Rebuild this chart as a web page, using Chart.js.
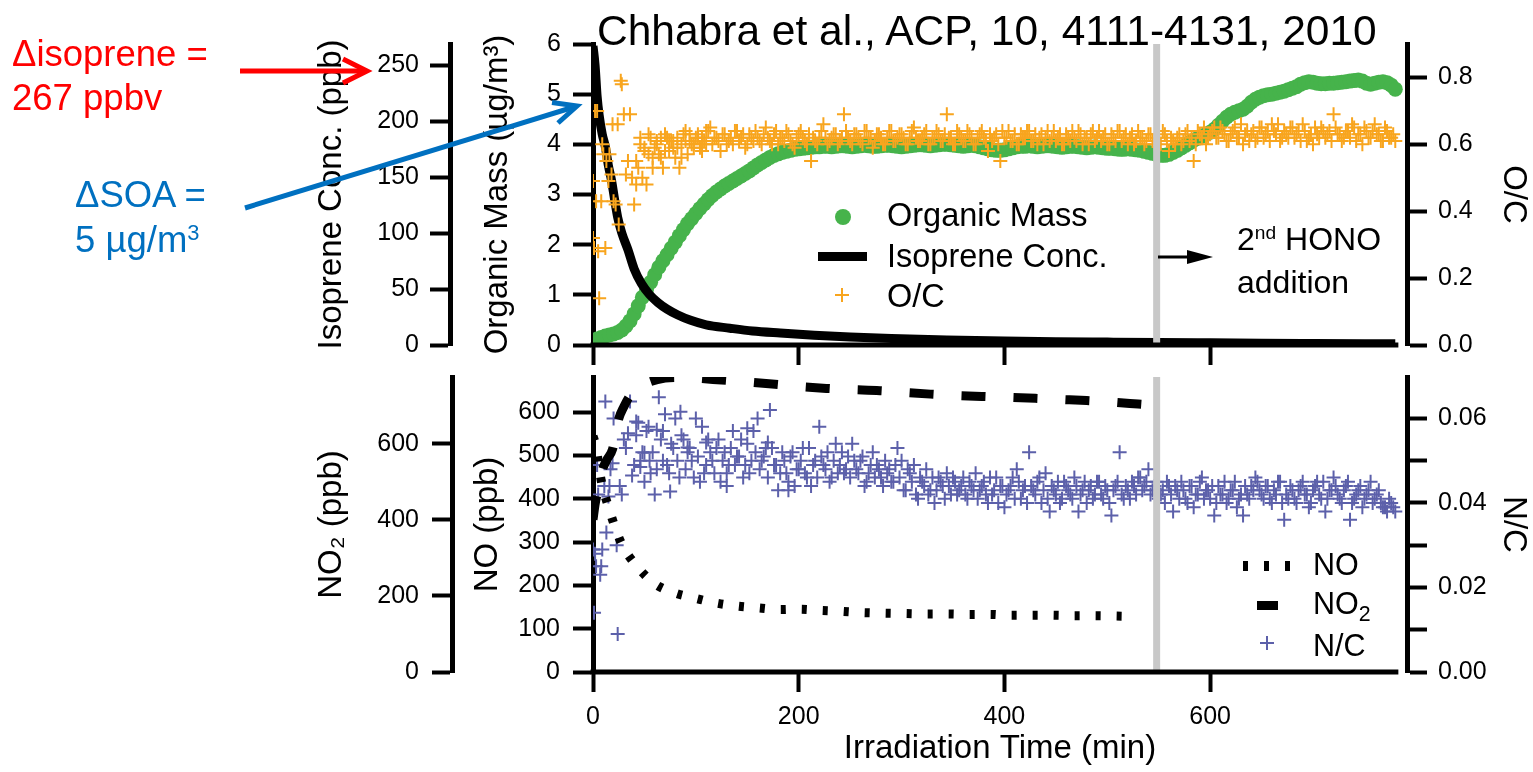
<!DOCTYPE html>
<html>
<head>
<meta charset="utf-8">
<script src="https://cdn.jsdelivr.net/npm/chart.js@4.4.1/dist/chart.umd.min.js"></script>
<style>
  body { margin: 0; background: #fff; width: 1533px; height: 772px; overflow: hidden; position: relative;
         font-family: 'Liberation Sans', Arial, sans-serif; color: #000; }
  canvas { position: absolute; left: 0; display: block; }
  #top-chart { top: 0; }
  #bottom-chart { top: 368px; }
  svg { position: absolute; left: 0; top: 0; }
  .note { position: absolute; white-space: nowrap; }
  .sup { font-size: 0.6em; position: relative; top: -0.55em; }
  .sub { font-size: 0.7em; position: relative; top: 0.35em; }
</style>
</head>
<body>
<canvas id="top-chart" width="1533" height="368"></canvas>
<canvas id="bottom-chart" width="1533" height="404"></canvas>

<svg width="1533" height="772">
  <!-- annotation arrows -->
  <line x1="240" y1="71" x2="364" y2="71" stroke="#ff0000" stroke-width="5"/>
  <polyline points="343,59 367,71 343,83" fill="none" stroke="#ff0000" stroke-width="5"/>
  <line x1="245" y1="208" x2="574" y2="107" stroke="#0070c0" stroke-width="5"/>
  <polyline points="552,102.5 577,106 558,123" fill="none" stroke="#0070c0" stroke-width="5"/>
  <line x1="1158" y1="257" x2="1192" y2="257" stroke="#000" stroke-width="3"/>
  <polygon points="1213,257 1187,250 1187,264" fill="#000"/>
  <!-- legend swatches, top panel -->
  <circle cx="843" cy="217" r="8" fill="#46b34b"/>
  <rect x="818" y="252" width="49" height="9" fill="#000"/>
  <line x1="835" y1="295" x2="849" y2="295" stroke="#f8a51e" stroke-width="2"/>
  <line x1="842" y1="288" x2="842" y2="302" stroke="#f8a51e" stroke-width="2"/>
  <!-- legend swatches, bottom panel -->
  <rect x="1243" y="561" width="5" height="10" fill="#000"/>
  <rect x="1264" y="561" width="5" height="10" fill="#000"/>
  <rect x="1285" y="561" width="5" height="10" fill="#000"/>
  <rect x="1257" y="601" width="21" height="9" fill="#000"/>
  <line x1="1260" y1="643" x2="1274" y2="643" stroke="#5c60aa" stroke-width="2"/>
  <line x1="1267" y1="636" x2="1267" y2="650" stroke="#5c60aa" stroke-width="2"/>
</svg>

<div class="note" style="left:597px; top:10px; font-size:42.5px; line-height:42px;">Chhabra et al., ACP, 10, 4111-4131, 2010</div>
<div class="note" style="left:12px; top:32px; font-size:36.5px; line-height:44px; color:#ff0000;">&Delta;isoprene =<br>267 ppbv</div>
<div class="note" style="left:75px; top:172px; font-size:36.5px; line-height:45px; color:#0070c0;">&Delta;SOA =<br>5 &micro;g/m<span class="sup">3</span></div>
<div class="note" style="left:1237px; top:220px; font-size:32px; line-height:38px;">2<span class="sup">nd</span> HONO<br>addition</div>
<div class="note" style="left:887px; top:195px; font-size:32.5px; line-height:40.5px;">Organic Mass<br>Isoprene Conc.<br>O/C</div>
<div class="note" style="left:1313px; top:545px; font-size:30.5px; line-height:38.5px;">NO<br>NO<span class="sub">2</span><br>N/C</div>

<script>
// Chamber run: isoprene + HONO, irradiation time in minutes

// sample times shared by the AMS series (min)
const sampleTime = [
  0, 4, 8, 12, 16, 20, 24, 28, 32, 36,
  40, 44, 48, 52, 56, 60, 64, 68, 72, 76,
  80, 84, 88, 92, 96, 100, 104, 108, 112, 116,
  120, 124, 128, 132, 136, 140, 144, 148, 152, 156,
  160, 164, 168, 172, 176, 180, 184, 188, 192, 196,
  200, 204, 208, 212, 216, 220, 224, 228, 232, 236,
  240, 244, 248, 252, 256, 260, 264, 268, 272, 276,
  280, 284, 288, 292, 296, 300, 304, 308, 312, 316,
  320, 324, 328, 332, 336, 340, 344, 348, 352, 356,
  360, 364, 368, 372, 376, 380, 384, 388, 392, 396,
  400, 404, 408, 412, 416, 420, 424, 428, 432, 436,
  440, 444, 448, 452, 456, 460, 464, 468, 472, 476,
  480, 484, 488, 492, 496, 500, 504, 508, 512, 516,
  520, 524, 528, 532, 536, 540, 544, 548, 552, 556,
  560, 564, 568, 572, 576, 580, 584, 588, 592, 596,
  600, 604, 608, 612, 616, 620, 624, 628, 632, 636,
  640, 644, 648, 652, 656, 660, 664, 668, 672, 676,
  680, 684, 688, 692, 696, 700, 704, 708, 712, 716,
  720, 724, 728, 732, 736, 740, 744, 748, 752, 756,
  760, 764, 768, 772, 776, 780
];

// in-between elemental-ratio samples (min)
const midTime = [
  42, 46, 50, 54, 58, 62, 66, 70, 74, 78,
  82, 86, 90, 94, 98, 102, 106, 110, 114, 118,
  122, 126, 130, 134, 138, 142, 146, 150, 154, 158,
  162, 166, 170, 174, 178, 182, 186, 190, 194, 198,
  202, 206, 210, 214, 218, 222, 226, 230, 234, 238,
  242, 246, 250, 254, 258, 262, 266, 270, 274, 278,
  282, 286, 290, 294, 298, 302, 306, 310, 314, 318,
  322, 326, 330, 334, 338, 342, 346, 350, 354, 358,
  362, 366, 370, 374, 378, 382, 386, 390, 394, 398,
  402, 406, 410, 414, 418, 422, 426, 430, 434, 438,
  442, 446, 450, 454, 458, 462, 466, 470, 474, 478,
  482, 486, 490, 494, 498, 502, 506, 510, 514, 518,
  522, 526, 530, 534, 538, 542, 546, 550, 554, 558,
  562, 566, 570, 574, 578, 582, 586, 590, 594, 598,
  602, 606, 610, 614, 618, 622, 626, 630, 634, 638,
  642, 646, 650, 654, 658, 662, 666, 670, 674, 678,
  682, 686, 690, 694, 698, 702, 706, 710, 714, 718,
  722, 726, 730, 734, 738, 742, 746, 750, 754, 758,
  762, 766, 770, 774, 778
];

// organic mass (ug/m3)
const organicMass = [
  0.08, 0.12, 0.15, 0.18, 0.20, 0.22, 0.25, 0.30, 0.38, 0.48,
  0.62, 0.78, 0.95, 1.10, 1.25, 1.40, 1.55, 1.68, 1.80, 1.93,
  2.05, 2.18, 2.30, 2.42, 2.52, 2.62, 2.72, 2.81, 2.90, 2.98,
  3.05, 3.11, 3.17, 3.22, 3.27, 3.32, 3.37, 3.42, 3.47, 3.53,
  3.59, 3.64, 3.69, 3.74, 3.78, 3.81, 3.84, 3.86, 3.88, 3.90,
  3.91, 3.92, 3.93, 3.94, 3.95, 3.95, 3.96, 3.96, 3.95, 3.96,
  3.97, 3.97, 3.96, 3.95, 3.96, 3.97, 3.98, 3.97, 3.96, 3.96,
  3.97, 3.98, 3.98, 3.97, 3.96, 3.95, 3.96, 3.97, 3.98, 3.99,
  3.99, 3.98, 3.97, 3.98, 3.99, 4.00, 4.00, 3.99, 3.98, 3.97,
  3.96, 3.97, 3.98, 3.97, 3.95, 3.93, 3.91, 3.89, 3.88, 3.88,
  3.89, 3.91, 3.93, 3.95, 3.96, 3.96, 3.97, 3.96, 3.95, 3.96,
  3.97, 3.97, 3.96, 3.95, 3.94, 3.95, 3.96, 3.96, 3.95, 3.94,
  3.93, 3.94, 3.95, 3.94, 3.93, 3.92, 3.92, 3.91, 3.90, 3.90,
  3.91, 3.90, 3.89, 3.88, 3.86, 3.84, 3.82, 3.80, 3.78, 3.78,
  3.80, 3.84, 3.88, 3.93, 3.98, 4.03, 4.08, 4.12, 4.16, 4.20,
  4.24, 4.30, 4.38, 4.46, 4.54, 4.60, 4.64, 4.67, 4.70, 4.76,
  4.84, 4.90, 4.94, 4.97, 4.99, 5.00, 5.02, 5.04, 5.06, 5.09,
  5.12, 5.15, 5.20, 5.23, 5.25, 5.24, 5.22, 5.21, 5.21, 5.22,
  5.22, 5.23, 5.24, 5.25, 5.26, 5.27, 5.28, 5.26, 5.22, 5.20,
  5.22, 5.24, 5.25, 5.23, 5.18, 5.10
];

// O/C ratio
const oxygenToCarbon = [
  0.49, 0.70, 0.43, 0.29, 0.57, 0.43, 0.66, 0.78, 0.51, 0.69,
  0.42, 0.53, 0.50, 0.48, 0.62, 0.59, 0.57, 0.53, 0.62, 0.61,
  0.56, 0.53, 0.63, 0.57, 0.60, 0.62, 0.59, 0.61, 0.64, 0.60,
  0.62, 0.58, 0.63, 0.61, 0.60, 0.64, 0.62, 0.59, 0.63, 0.61,
  0.62, 0.60, 0.65, 0.61, 0.63, 0.60, 0.62, 0.64, 0.61, 0.59,
  0.63, 0.62, 0.60, 0.55, 0.61, 0.62, 0.66, 0.60, 0.62, 0.63,
  0.61, 0.69, 0.62, 0.60, 0.63, 0.61, 0.64, 0.62, 0.59, 0.63,
  0.62, 0.60, 0.64, 0.61, 0.62, 0.63, 0.60, 0.62, 0.65, 0.61,
  0.62, 0.64, 0.60, 0.62, 0.63, 0.61, 0.69, 0.62, 0.60, 0.63,
  0.61, 0.64, 0.62, 0.60, 0.63, 0.62, 0.58, 0.61, 0.63, 0.55,
  0.62, 0.64, 0.61, 0.60, 0.63, 0.62, 0.64, 0.61, 0.60, 0.63,
  0.62, 0.61, 0.64, 0.62, 0.60, 0.63, 0.61, 0.62, 0.64, 0.60,
  0.62, 0.63, 0.61, 0.64, 0.62, 0.60, 0.63, 0.61, 0.64, 0.62,
  0.60, 0.63, 0.61, 0.62, 0.60, 0.63, 0.61, 0.62, 0.60, 0.63,
  0.58, 0.61, 0.62, 0.60, 0.63, 0.61, 0.55, 0.64, 0.62, 0.60,
  0.63, 0.65, 0.62, 0.64, 0.61, 0.63, 0.65, 0.62, 0.60, 0.64,
  0.63, 0.61, 0.65, 0.62, 0.64, 0.66, 0.63, 0.61, 0.64, 0.62,
  0.65, 0.63, 0.61, 0.64, 0.62, 0.60, 0.63, 0.65, 0.62, 0.64,
  0.69, 0.63, 0.61, 0.64, 0.62, 0.65, 0.63, 0.60, 0.64, 0.62,
  0.66, 0.63, 0.61, 0.64, 0.62, 0.61
];

const oxygenToCarbonMid = [
  0.55, 0.60, 0.58, 0.63, 0.56, 0.60, 0.62, 0.58, 0.61, 0.59,
  0.62, 0.60, 0.64, 0.61, 0.59, 0.63, 0.62, 0.60, 0.65, 0.62,
  0.61, 0.63, 0.60, 0.62, 0.64, 0.61, 0.63, 0.60, 0.62, 0.64,
  0.61, 0.63, 0.62, 0.60, 0.64, 0.62, 0.61, 0.63, 0.60, 0.62,
  0.64, 0.61, 0.63, 0.62, 0.60, 0.64, 0.62, 0.61, 0.63, 0.60,
  0.62, 0.64, 0.61, 0.63, 0.62, 0.60, 0.64, 0.62, 0.61, 0.63,
  0.60, 0.62, 0.64, 0.61, 0.63, 0.62, 0.60, 0.64, 0.62, 0.61,
  0.63, 0.60, 0.62, 0.64, 0.61, 0.63, 0.62, 0.60, 0.64, 0.62,
  0.61, 0.63, 0.60, 0.62, 0.64, 0.61, 0.63, 0.62, 0.60, 0.64,
  0.62, 0.61, 0.63, 0.60, 0.62, 0.64, 0.61, 0.63, 0.62, 0.60,
  0.64, 0.62, 0.61, 0.63, 0.60, 0.62, 0.64, 0.61, 0.63, 0.62,
  0.60, 0.64, 0.62, 0.61, 0.63, 0.60, 0.62, 0.64, 0.61, 0.63,
  0.62, 0.60, 0.64, 0.62, 0.61, 0.63, 0.60, 0.62, 0.64, 0.61,
  0.62, 0.60, 0.63, 0.61, 0.64, 0.62, 0.60, 0.63, 0.65, 0.62,
  0.64, 0.62, 0.65, 0.63, 0.61, 0.64, 0.62, 0.66, 0.63, 0.61,
  0.64, 0.62, 0.65, 0.63, 0.61, 0.64, 0.66, 0.62, 0.63, 0.65,
  0.62, 0.64, 0.66, 0.61, 0.63, 0.65, 0.62, 0.64, 0.63, 0.61,
  0.65, 0.63, 0.62, 0.64, 0.66, 0.61, 0.63, 0.65, 0.62, 0.64,
  0.63, 0.61, 0.65, 0.62, 0.63
];

// extra O/C points in the noisy start of the run
const ocEarlyTime = [0, 1, 2, 3, 5, 6, 9, 10, 13, 15, 18, 19, 22, 25, 27, 30, 34, 38, 42, 46,
                     50, 54, 58, 62, 66, 70, 74, 78, 82, 86, 90, 94, 98, 102, 106, 110];
const ocEarly = [0.32, 0.29, 0.70, 0.43, 0.28, 0.14, 0.60, 0.57, 0.55, 0.49, 0.51, 0.66, 0.42, 0.36, 0.79, 0.69, 0.55, 0.50, 0.48, 0.62,
                 0.59, 0.57, 0.53, 0.61, 0.56, 0.63, 0.58, 0.61, 0.59, 0.56, 0.61, 0.63, 0.60, 0.62, 0.58, 0.64];

// N/C ratio
const nitrogenToCarbon = [
  0.029, 0.049, 0.025, 0.064, 0.044, 0.060, 0.009, 0.042, 0.053, 0.064,
  0.049, 0.059, 0.052, 0.057, 0.047, 0.042, 0.065, 0.050, 0.049, 0.054,
  0.060, 0.046, 0.055, 0.052, 0.050, 0.060, 0.045, 0.047, 0.055, 0.050,
  0.053, 0.045, 0.052, 0.049, 0.057, 0.051, 0.055, 0.049, 0.047, 0.057,
  0.060, 0.050, 0.053, 0.062, 0.049, 0.043, 0.052, 0.047, 0.051, 0.044,
  0.048, 0.053, 0.046, 0.044, 0.050, 0.058, 0.049, 0.052, 0.046, 0.054,
  0.049, 0.047, 0.051, 0.054, 0.048, 0.050, 0.044, 0.047, 0.052, 0.049,
  0.046, 0.050, 0.048, 0.045, 0.053, 0.050, 0.043, 0.047, 0.049, 0.041,
  0.045, 0.048, 0.043, 0.040, 0.046, 0.044, 0.047, 0.042, 0.045, 0.043,
  0.046, 0.041, 0.044, 0.047, 0.043, 0.045, 0.040, 0.042, 0.046, 0.044,
  0.039, 0.043, 0.046, 0.048, 0.041, 0.044, 0.052, 0.043, 0.045, 0.040,
  0.047, 0.038, 0.043, 0.045, 0.041, 0.044, 0.042, 0.046, 0.038, 0.043,
  0.040, 0.044, 0.042, 0.045, 0.041, 0.043, 0.037, 0.044, 0.052, 0.041,
  0.043, 0.045, 0.042, 0.046, 0.044, 0.048, 0.043, 0.045, 0.042, 0.040,
  0.044, 0.038, 0.043, 0.045, 0.041, 0.044, 0.039, 0.042, 0.046, 0.043,
  0.041, 0.037, 0.044, 0.042, 0.040, 0.043, 0.045, 0.041, 0.037, 0.042,
  0.044, 0.046, 0.043, 0.041, 0.044, 0.040, 0.042, 0.045, 0.036, 0.041,
  0.043, 0.040, 0.044, 0.042, 0.039, 0.043, 0.045, 0.041, 0.038, 0.043,
  0.046, 0.042, 0.040, 0.044, 0.036, 0.041, 0.043, 0.039, 0.042, 0.045,
  0.041, 0.043, 0.039, 0.038, 0.040, 0.038
];

const nitrogenToCarbonMid = [
  0.056, 0.050, 0.045, 0.058, 0.052, 0.048, 0.055, 0.061, 0.047, 0.053,
  0.050, 0.056, 0.048, 0.053, 0.046, 0.051, 0.058, 0.049, 0.052, 0.047,
  0.055, 0.050, 0.047, 0.053, 0.049, 0.051, 0.046, 0.054, 0.050, 0.052,
  0.048, 0.051, 0.046, 0.053, 0.049, 0.047, 0.050, 0.045, 0.052, 0.048,
  0.050, 0.047, 0.053, 0.049, 0.046, 0.051, 0.048, 0.045, 0.050, 0.047,
  0.052, 0.048, 0.046, 0.050, 0.047, 0.051, 0.045, 0.049, 0.046, 0.048,
  0.044, 0.047, 0.045, 0.049, 0.046, 0.043, 0.048, 0.045, 0.042, 0.046,
  0.044, 0.042, 0.046, 0.043, 0.045, 0.041, 0.044, 0.046, 0.042, 0.044,
  0.042, 0.045, 0.043, 0.041, 0.044, 0.042, 0.046, 0.043, 0.040, 0.044,
  0.042, 0.044, 0.041, 0.045, 0.043, 0.040, 0.044, 0.042, 0.046, 0.043,
  0.041, 0.044, 0.042, 0.040, 0.045, 0.043, 0.041, 0.044, 0.042, 0.045,
  0.043, 0.041, 0.045, 0.042, 0.044, 0.040, 0.043, 0.045, 0.042, 0.044,
  0.041, 0.044, 0.046, 0.043, 0.045, 0.042, 0.044, 0.041, 0.043, 0.045,
  0.042, 0.044, 0.041, 0.043, 0.040, 0.044, 0.042, 0.045, 0.041, 0.043,
  0.044, 0.040, 0.042, 0.045, 0.041, 0.043, 0.039, 0.042, 0.044, 0.041,
  0.043, 0.045, 0.042, 0.044, 0.041, 0.043, 0.045, 0.040, 0.042, 0.044,
  0.041, 0.043, 0.045, 0.042, 0.040, 0.044, 0.042, 0.045, 0.041, 0.043,
  0.044, 0.041, 0.043, 0.045, 0.040, 0.042, 0.044, 0.041, 0.043, 0.040,
  0.042, 0.040, 0.039, 0.041, 0.039
];

const ncEarlyTime = [1, 2, 3, 5, 7, 9, 11, 13, 15, 17, 19, 23, 26, 30, 34,
                     38, 42, 46, 50, 55, 62, 68, 75, 85, 92, 110, 130, 150, 170, 190];
const ncEarly = [0.014, 0.028, 0.025, 0.042, 0.023, 0.029, 0.044, 0.033, 0.0415, 0.048, 0.0494, 0.030, 0.044, 0.055, 0.0565,
                 0.0465, 0.0593, 0.0485, 0.0519, 0.050, 0.0573, 0.057, 0.0427, 0.0616, 0.0531, 0.0543, 0.044, 0.0577, 0.0543, 0.043];

// isoprene (ppb)
const isopreneTime = [0, 2, 4, 6, 9, 12, 15, 18, 21, 24, 28, 34, 40, 47, 55, 63, 72, 82, 95, 110,
                      133, 155, 182, 215, 250, 290, 344, 400, 450, 500, 550, 600, 650, 700, 750, 780];
const isoprene = [267, 250, 222, 205, 188, 177, 160, 147, 130, 114, 100, 85, 68, 55, 45, 38, 32, 27, 22, 18,
                  15, 12.5, 10.7, 8.8, 7.2, 5.8, 4.5, 3.6, 3.0, 2.6, 2.2, 1.9, 1.6, 1.4, 1.2, 1.1];

// NO and NO2 (ppb)
const noTime = [0, 3, 6, 9, 14, 20, 28, 41, 60, 80, 100, 120, 141, 161, 182, 201, 222, 243, 263, 282,
                305, 324, 345, 365, 386, 405, 426, 446, 467, 488, 509, 529];
const no = [545, 520, 470, 430, 389, 344, 295, 249, 204, 182, 170, 159, 152, 148, 144, 145, 142, 140, 137, 136,
            135, 134, 134, 133, 133, 131, 131, 131, 130, 130, 129, 128];
const no2Time = [0, 2, 5, 9, 14, 19, 22, 25, 30, 36, 45, 55, 70, 85, 100, 125, 150, 177, 200, 227,
                 250, 279, 300, 328, 350, 378, 400, 430, 455, 480, 505, 530, 540];
const no2 = [400, 440, 480, 530, 560, 585, 625, 665, 697, 726, 748, 762, 772, 774, 772, 767, 762, 756, 750, 745,
             742, 739, 735, 730, 727, 724, 722, 719, 716, 713, 709, 704, 702];

// tick positions
const timeTicks = [0, 200, 400, 600];
const isopreneTicks = [0, 50, 100, 150, 200, 250];
const massTicks = [0, 1, 2, 3, 4, 5, 6];
const ocTicks = [0, 0.2, 0.4, 0.6, 0.8];
const no2Ticks = [0, 200, 400, 600];
const noTicks = [0, 100, 200, 300, 400, 500, 600];
const ncTicks = [0, 0.01, 0.02, 0.03, 0.04, 0.05, 0.06];

const honoTime = 548;   // second HONO addition
const xMax = 791.4;
const xAxisEnd = 783;

const GREEN = '#46b34b';
const ORANGE = '#f8a51e';
const BLUE = '#5c60aa';
const TICK_FONT = { size: 25 };
const TITLE_FONT = { size: 33 };

Chart.defaults.font.family = "'Liberation Sans', Arial, sans-serif";
Chart.defaults.color = '#000';

function pts(xs, ys) {
  return xs.map((x, i) => ({ x: x, y: ys[i] }));
}
function axisBorder() {
  return { display: true, color: '#000', width: 5 };
}
function tickGrid() {
  return { drawOnChartArea: false, drawTicks: true, tickLength: 20, tickWidth: 4, tickColor: '#000' };
}
function useTicks(values) {
  return (s) => { s.ticks = values.map((v) => ({ value: v })); };
}
function fixWidth(w) {
  return (s) => { s.width = w; s.paddingTop = 0; s.paddingBottom = 0; };
}
function fixHeight(h) {
  return (s) => { s.height = h; s.paddingLeft = 0; s.paddingRight = 0; };
}

// gray bar at the 2nd HONO addition + x axis line that stops short of the right axis
const honoMarker = {
  id: 'honoMarker',
  afterDatasetsDraw(chart) {
    const { ctx, chartArea: a, scales } = chart;
    const px = scales.x.getPixelForValue(honoTime);
    ctx.save();
    ctx.fillStyle = '#c8c8c8';
    ctx.fillRect(px - 3.5, a.top, 7, a.bottom - a.top - 2);
    ctx.restore();
  },
  afterDraw(chart) {
    const { ctx, chartArea: a, scales } = chart;
    ctx.save();
    ctx.strokeStyle = '#000';
    ctx.lineWidth = 5;
    ctx.beginPath();
    ctx.moveTo(a.left - 2.5, a.bottom);
    ctx.lineTo(scales.x.getPixelForValue(xAxisEnd), a.bottom);
    ctx.stroke();
    ctx.restore();
  }
};

const common = {
  responsive: false,
  animation: false,
  devicePixelRatio: 1,
  events: [],
  plugins: { legend: { display: false }, tooltip: { enabled: false } }
};

// top panel
new Chart(document.getElementById('top-chart'), {
  type: 'scatter',
  data: {
    datasets: [{
      label: 'O/C',
      data: pts(sampleTime, oxygenToCarbon)
        .concat(pts(midTime, oxygenToCarbonMid))
        .concat(pts(ocEarlyTime, ocEarly)),
      yAxisID: 'yOC',
      pointStyle: 'cross',
      pointRadius: 7,
      borderWidth: 2,
      borderColor: ORANGE,
      showLine: false
    }, {
      label: 'Isoprene Conc.',
      data: pts(isopreneTime, isoprene),
      yAxisID: 'yIso',
      showLine: true,
      borderColor: '#000',
      borderWidth: 9,
      pointRadius: 0,
      cubicInterpolationMode: 'monotone'
    }, {
      label: 'Organic Mass',
      data: pts(sampleTime, organicMass),
      yAxisID: 'yOM',
      pointStyle: 'circle',
      pointRadius: 7.5,
      borderWidth: 0,
      backgroundColor: GREEN,
      showLine: false
    }]
  },
  options: Object.assign({}, common, {
    layout: { padding: { left: 290, top: 44, right: 0, bottom: 0 } },
    scales: {
      x: {
        type: 'linear', position: 'bottom', min: 0, max: xMax,
        border: { display: false }, grid: tickGrid(),
        ticks: { display: false, autoSkip: false },
        afterBuildTicks: useTicks(timeTicks),
        afterFit: fixHeight(23)
      },
      yIso: {
        type: 'linear', position: 'left', weight: 1, min: 0, max: 268.75,
        border: axisBorder(), grid: tickGrid(),
        ticks: { autoSkip: false, padding: 11, font: TICK_FONT },
        afterBuildTicks: useTicks(isopreneTicks),
        title: { display: true, text: 'Isoprene Conc. (ppb)', font: TITLE_FONT, padding: { top: 22, bottom: 0 } },
        afterFit: fixWidth(160)
      },
      yOM: {
        type: 'linear', position: 'left', weight: 0, min: 0, max: 6,
        border: axisBorder(), grid: tickGrid(),
        ticks: { autoSkip: false, padding: 12, font: TICK_FONT },
        afterBuildTicks: useTicks(massTicks),
        title: { display: true, text: 'Organic Mass (µg/m³)', font: TITLE_FONT, padding: { top: 28, bottom: 0 } },
        afterFit: fixWidth(143)
      },
      yOC: {
        type: 'linear', position: 'right', min: 0, max: 0.9,
        border: axisBorder(), grid: tickGrid(),
        ticks: { autoSkip: false, padding: 11, font: TICK_FONT, callback: (v) => v.toFixed(1) },
        afterBuildTicks: useTicks(ocTicks),
        title: { display: true, text: 'O/C', font: TITLE_FONT, padding: { top: 0, bottom: 0 } },
        afterFit: fixWidth(126)
      }
    }
  }),
  plugins: [honoMarker]
});

// bottom panel
new Chart(document.getElementById('bottom-chart'), {
  type: 'scatter',
  data: {
    datasets: [{
      label: 'NO',
      data: pts(noTime, no),
      yAxisID: 'yNO',
      showLine: true,
      borderColor: '#000',
      borderWidth: 9,
      borderDash: [5, 16],
      borderCapStyle: 'butt',
      pointRadius: 0,
      cubicInterpolationMode: 'monotone'
    }, {
      label: 'NO2',
      data: pts(no2Time, no2),
      yAxisID: 'yNO2',
      showLine: true,
      borderColor: '#000',
      borderWidth: 9,
      borderDash: [24, 28],
      borderCapStyle: 'butt',
      pointRadius: 0,
      cubicInterpolationMode: 'monotone'
    }, {
      label: 'N/C',
      data: pts(sampleTime, nitrogenToCarbon)
        .concat(pts(midTime, nitrogenToCarbonMid))
        .concat(pts(ncEarlyTime, ncEarly)),
      yAxisID: 'yNC',
      pointStyle: 'cross',
      pointRadius: 7,
      borderWidth: 2,
      borderColor: BLUE,
      showLine: false
    }]
  },
  options: Object.assign({}, common, {
    layout: { padding: { left: 290, top: 3, right: 0, bottom: 0 } },
    scales: {
      x: {
        type: 'linear', position: 'bottom', min: 0, max: xMax,
        border: { display: false }, grid: tickGrid(),
        ticks: { autoSkip: false, padding: 10, maxRotation: 0, font: TICK_FONT },
        afterBuildTicks: useTicks(timeTicks),
        title: { display: true, text: 'Irradiation Time (min)', font: TITLE_FONT, padding: { top: 0, bottom: 3 } },
        afterFit: fixHeight(100)
      },
      yNO2: {
        type: 'linear', position: 'left', weight: 1, min: 0, max: 775,
        border: axisBorder(), grid: tickGrid(),
        ticks: { autoSkip: false, padding: 13, font: TICK_FONT },
        afterBuildTicks: useTicks(no2Ticks),
        title: { display: true, text: 'NO₂ (ppb)', font: TITLE_FONT, padding: { top: 22, bottom: 0 } },
        afterFit: fixWidth(162)
      },
      yNO: {
        type: 'linear', position: 'left', weight: 0, min: 0, max: 681,
        border: axisBorder(), grid: tickGrid(),
        ticks: { autoSkip: false, padding: 13, font: TICK_FONT },
        afterBuildTicks: useTicks(noTicks),
        title: { display: true, text: 'NO (ppb)', font: TITLE_FONT, padding: { top: 16, bottom: 0 } },
        afterFit: fixWidth(141)
      },
      yNC: {
        type: 'linear', position: 'right', min: 0, max: 0.0698,
        border: axisBorder(), grid: tickGrid(),
        ticks: { autoSkip: false, padding: 11, font: TICK_FONT,
                 callback: (v) => (Math.round(v * 100) % 2 === 0 ? v.toFixed(2) : '') },
        afterBuildTicks: useTicks(ncTicks),
        title: { display: true, text: 'N/C', font: TITLE_FONT, padding: { top: 0, bottom: 0 } },
        afterFit: fixWidth(126)
      }
    }
  }),
  plugins: [honoMarker]
});
</script>
</body>
</html>
